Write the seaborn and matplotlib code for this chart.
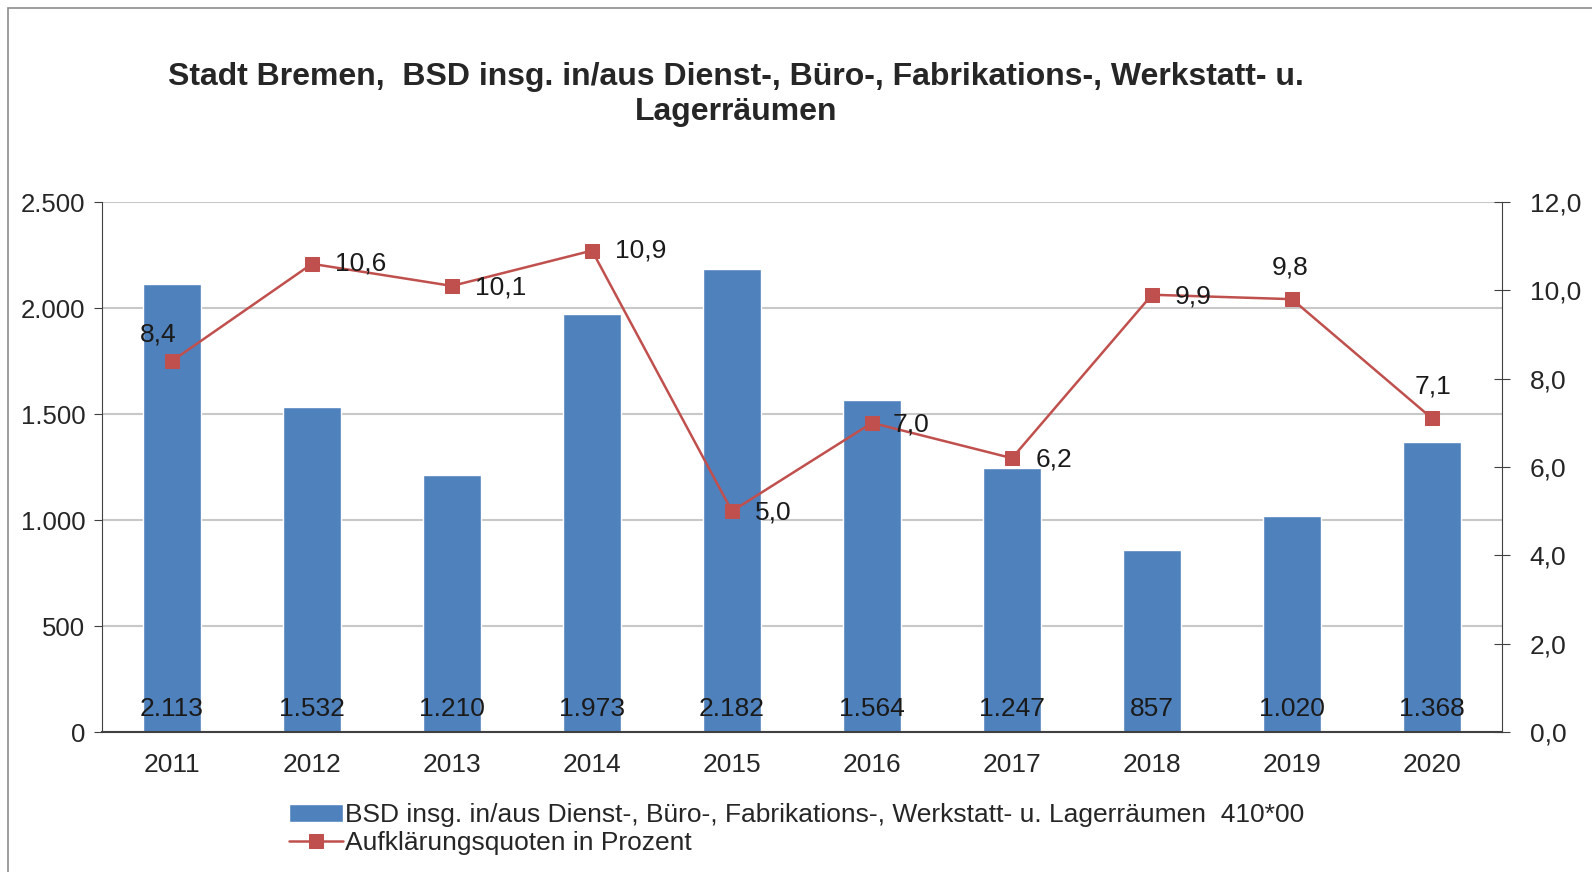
import matplotlib
matplotlib.use("Agg")
import matplotlib.pyplot as plt
import matplotlib.patches as mpatches
from matplotlib.ticker import FuncFormatter, MultipleLocator
import numpy as np
import pandas as pd
import seaborn as sns

# Data
years = ["2011", "2012", "2013", "2014", "2015", "2016", "2017", "2018", "2019", "2020"]
cases = [2113, 1532, 1210, 1973, 2182, 1564, 1247, 857, 1020, 1368]
rates = [8.4, 10.6, 10.1, 10.9, 5.0, 7.0, 6.2, 9.9, 9.8, 7.1]

bar_label = "BSD insg. in/aus Dienst-, Büro-, Fabrikations-, Werkstatt- u. Lagerräumen  410*00"
line_label = "Aufklärungsquoten in Prozent"
title = "Stadt Bremen,  BSD insg. in/aus Dienst-, Büro-, Fabrikations-, Werkstatt- u.\nLagerräumen"

# label offsets (points) for the rate labels
rate_offsets = [(-10, 19), (35, 0), (35, -1), (35, 0), (30, -1), (28, -1), (30, -1), (30, -1), (-1, 23), (1, 23)]

sns.set_style("white")
plt.rcParams["font.family"] = ["Liberation Sans", "DejaVu Sans"]

df = pd.DataFrame({"year": years, "cases": cases})

fig = plt.figure(figsize=(15.92, 8.72), dpi=100)
ax = fig.add_axes([102 / 1592, 1 - 732 / 872, 1400 / 1592, 530 / 872])

sns.barplot(data=df, x="year", y="cases", color="#4F81BD", saturation=1,
            width=0.42, ax=ax, label=bar_label, zorder=2)
if ax.get_legend() is not None:
    ax.get_legend().remove()
ax.set_xlim(-0.5, 9.5)
ax.set_ylim(0, 2500)
ax.yaxis.set_major_locator(MultipleLocator(500))
ax.yaxis.set_major_formatter(FuncFormatter(lambda v, p: f"{int(v):,}".replace(",", ".")))
ax.grid(axis="y", color="#C8C8C8", linewidth=1.5, zorder=0)
ax.set_axisbelow(True)
ax.set_xlabel("")
ax.set_ylabel("")
for s in ["top", "right"]:
    ax.spines[s].set_visible(False)
ax.spines["left"].set_color("#404040")
ax.spines["bottom"].set_color("#404040")
ax.spines["bottom"].set_linewidth(1.5)
ax.tick_params(axis="y", direction="out", length=6, color="#404040", labelsize=18.5, pad=6)
ax.tick_params(axis="x", which="major", length=0, labelsize=19, pad=15)
ax.set_xticks(np.arange(-0.5, 10, 1), minor=True)
ax.tick_params(axis="x", which="minor", direction="out", length=10, color="#404040")

for i, v in enumerate(cases):
    ax.text(i, 110, f"{v:,}".replace(",", "."), ha="center", va="center",
            fontsize=19, color="#1a1a1a", zorder=5)

ax2 = ax.twinx()
sns.lineplot(x=np.arange(len(rates)), y=rates, ax=ax2, color="#C0504D", marker="s",
             markersize=10, markeredgecolor="#C0504D", linewidth=1.8, label=line_label,
             legend=False)
ax2.set_ylim(0, 12)
ax2.yaxis.set_major_locator(MultipleLocator(2))
ax2.yaxis.set_major_formatter(FuncFormatter(lambda v, p: f"{v:.1f}".replace(".", ",")))
for s in ["top", "left", "bottom"]:
    ax2.spines[s].set_visible(False)
ax2.spines["right"].set_color("#404040")
ax2.tick_params(axis="y", direction="inout", length=12, color="#404040", labelsize=19, pad=14)
ax2.grid(False)

for i, v in enumerate(rates):
    dx, dy = rate_offsets[i]
    ax2.annotate(f"{v:.1f}".replace(".", ","), (i, v), xytext=(dx, dy), textcoords="offset points",
                 ha="center", va="center", fontsize=19, color="#1a1a1a")

fig.suptitle(title, x=736 / 1592, y=1 - 62 / 872, fontsize=23, fontweight="bold", va="top",
             linespacing=1.2)

h1, l1 = ax.get_legend_handles_labels()
h2, l2 = ax2.get_legend_handles_labels()
fig.legend(h1 + h2, l1 + l2, loc="upper left", bbox_to_anchor=(276 / 1592, 1 - 790 / 872),
           frameon=False, fontsize=19, handlelength=2.05, handletextpad=0.08,
           labelspacing=0.15, borderpad=0)

fig.patches.append(mpatches.Rectangle((8 / 1592, -0.1), 1.2, 1.1 - 8 / 872, transform=fig.transFigure,
                                      fill=False, edgecolor="#8c8c8c", linewidth=1.2))

fig.savefig("out.png", dpi=100)
